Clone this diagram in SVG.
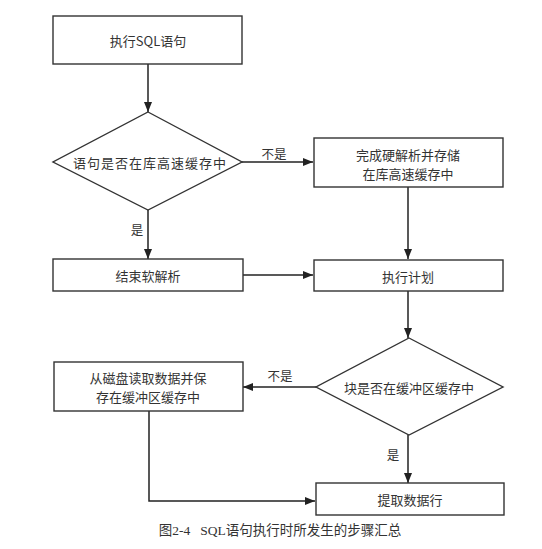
<svg xmlns="http://www.w3.org/2000/svg" width="542" height="549" viewBox="0 0 542 549">
<style>
.box{fill:#fff;stroke:#333;stroke-width:1.4}
.t{font-family:"Noto Sans CJK SC","Liberation Sans",sans-serif;font-size:13px;fill:#333;text-anchor:middle;dominant-baseline:central}
.lbl{font-family:"Noto Sans CJK SC","Liberation Sans",sans-serif;font-size:12.5px;fill:#333;text-anchor:middle;dominant-baseline:central}
.c{fill:none;stroke:#222;stroke-width:1.5}
.cap{font-family:"Liberation Serif","Noto Sans CJK SC",serif;font-size:13.5px;fill:#333;text-anchor:middle;dominant-baseline:central}
</style>
<defs>
<marker id="ah" viewBox="0 0 10 10" refX="10" refY="5" markerWidth="10" markerHeight="10" markerUnits="userSpaceOnUse" orient="auto">
<path d="M0,1 L10,5 L0,9 Z" fill="#222"/>
</marker>
</defs>
<rect width="542" height="549" fill="#fff"/>
<g id="connectors">
<line class="c" x1="148" y1="64" x2="148" y2="112" marker-end="url(#ah)"/>
<line class="c" x1="242" y1="162" x2="313" y2="162" marker-end="url(#ah)"/>
<line class="c" x1="148" y1="210" x2="148" y2="259" marker-end="url(#ah)"/>
<line class="c" x1="243" y1="275" x2="313" y2="275" marker-end="url(#ah)"/>
<line class="c" x1="408" y1="187" x2="408" y2="259" marker-end="url(#ah)"/>
<line class="c" x1="408" y1="291" x2="408" y2="338" marker-end="url(#ah)"/>
<line class="c" x1="316" y1="387" x2="243" y2="387" marker-end="url(#ah)"/>
<line class="c" x1="408" y1="435" x2="408" y2="483" marker-end="url(#ah)"/>
<polyline class="c" points="149,411 149,501 315,501" marker-end="url(#ah)"/>
<text class="lbl" x="274" y="153">不是</text>
<text class="lbl" x="137" y="229">是</text>
<text class="lbl" x="280" y="375">不是</text>
<text class="lbl" x="393" y="454">是</text>
</g>
<g id="n1"><rect class="box" x="53" y="16" width="189" height="48"/><text class="t" x="148" y="40">执行SQL语句</text></g>
<g id="n2"><polygon class="box" points="148,112 242,162 148,210 53,162"/><text class="t" x="150" y="162" letter-spacing="1">语句是否在库高速缓存中</text></g>
<g id="n3"><rect class="box" x="314" y="138" width="189" height="49"/><text class="t" x="408" y="154">完成硬解析并存储</text><text class="t" x="408" y="173">在库高速缓存中</text></g>
<g id="n4"><rect class="box" x="53" y="259" width="190" height="32"/><text class="t" x="148" y="275">结束软解析</text></g>
<g id="n5"><rect class="box" x="314" y="260" width="189" height="31"/><text class="t" x="408" y="276">执行计划</text></g>
<g id="n6"><polygon class="box" points="409,338 503,387 409,435 316,387"/><text class="t" x="409" y="387">块是否在缓冲区缓存中</text></g>
<g id="n7"><rect class="box" x="54" y="362" width="189" height="49"/><text class="t" x="148" y="377">从磁盘读取数据并保</text><text class="t" x="148" y="396">存在缓冲区缓存中</text></g>
<g id="n8"><rect class="box" x="316" y="483" width="188" height="32"/><text class="t" x="410" y="499">提取数据行</text></g>
<text class="cap" x="280" y="530" xml:space="preserve">图2-4   SQL语句执行时所发生的步骤汇总</text>
</svg>
